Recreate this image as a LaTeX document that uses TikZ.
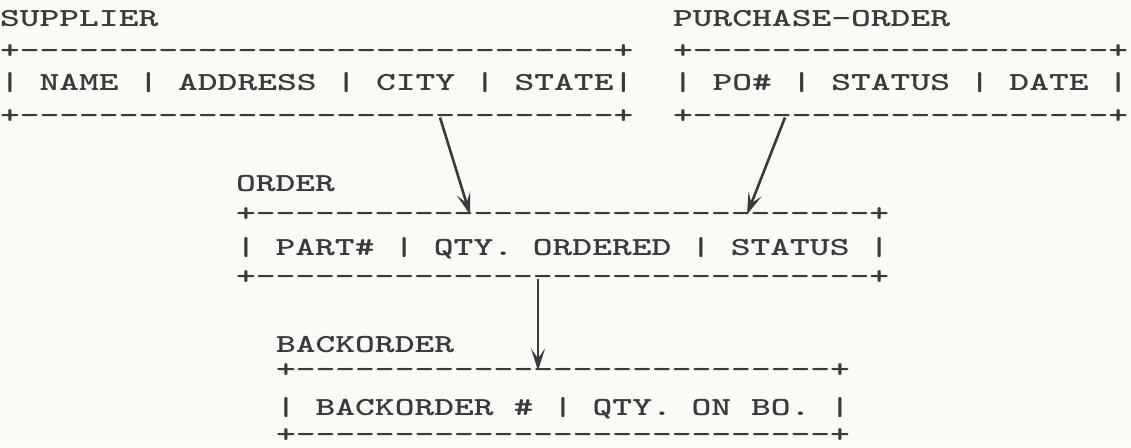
\documentclass[tikz,border=0pt]{standalone}
\usepackage{fontspec}
\usepackage{graphicx}
\usetikzlibrary{arrows.meta,calc}
\definecolor{ink}{RGB}{58,58,58}
\definecolor{paper}{RGB}{250,250,246}
\newcount\hypcnt
\newcommand\hyph[1]{\hypcnt=#1\relax\loop\ifnum\hypcnt>0 -\kern0pt\advance\hypcnt by -1\repeat}
\newcommand\tw[1]{\scalebox{1.45}[1]{#1}}
\begin{document}
\begin{tikzpicture}[x=1pt,y=-1pt,
  row/.style={anchor=base west, inner sep=0pt, outer sep=0pt, text=ink,
    font=\fontsize{26}{32}\ttfamily\bfseries},
  link/.style={draw=ink, line width=2.6pt,
    -{Stealth[length=22pt,width=14pt,inset=10pt]}}]
\fill[paper] (0,0) rectangle (1131,447);
\useasboundingbox (0,0) rectangle (1131,447);
% SUPPLIER
\node[row] (sL) at (0,27) {\tw{SUPPLIER}};
\node[row] (sT) at (0,58.5) {\tw{+\hyph{30}+}};
\node[row] (sC) at (0,90) {\tw{| NAME | ADDRESS | CITY | STATE|}};
\node[row] (sB) at (0,123.5) {\tw{+\hyph{30}+}};
% PURCHASE-ORDER
\node[row] (pL) at (673,27) {\tw{PURCHASE-ORDER}};
\node[row] (pT) at (673,58.5) {\tw{+\hyph{21}+}};
\node[row] (pC) at (673,90) {\tw{| PO\# | STATUS | DATE |}};
\node[row] (pB) at (673,123.5) {\tw{+\hyph{21}+}};
% ORDER
\node[row] (oL) at (236,191) {\tw{ORDER}};
\node[row] (oT) at (236,221.5) {\tw{+\hyph{31}+}};
\node[row] (oC) at (236,255) {\tw{| PART\# | QTY. ORDERED | STATUS |}};
\node[row] (oB) at (236,284.5) {\tw{+\hyph{31}+}};
% BACKORDER
\node[row] (bL) at (276,352) {\tw{BACKORDER}};
\node[row] (bT) at (276,377.5) {\tw{+\hyph{27}+}};
\node[row] (bC) at (276,415) {\tw{| BACKORDER \# | QTY. ON BO. |}};
\node[row] (bB) at (276,442) {\tw{+\hyph{27}+}};
% connector ends
\coordinate (a1s) at ($(sB.base west)+(440,-6)$);
\coordinate (a1e) at ($(oT.base west)+(234,-7)$);
\coordinate (a2s) at ($(pB.base west)+(112,-6)$);
\coordinate (a2e) at ($(oT.base west)+(511,-7)$);
\coordinate (a3s) at ($(oB.base west)+(302,-6)$);
\coordinate (a3e) at ($(bT.base west)+(262,-7)$);
\draw[link] (a1s) -- (a1e);
\draw[link] (a2s) -- (a2e);
\draw[link] (a3s) -- (a3e);
\end{tikzpicture}
\end{document}
